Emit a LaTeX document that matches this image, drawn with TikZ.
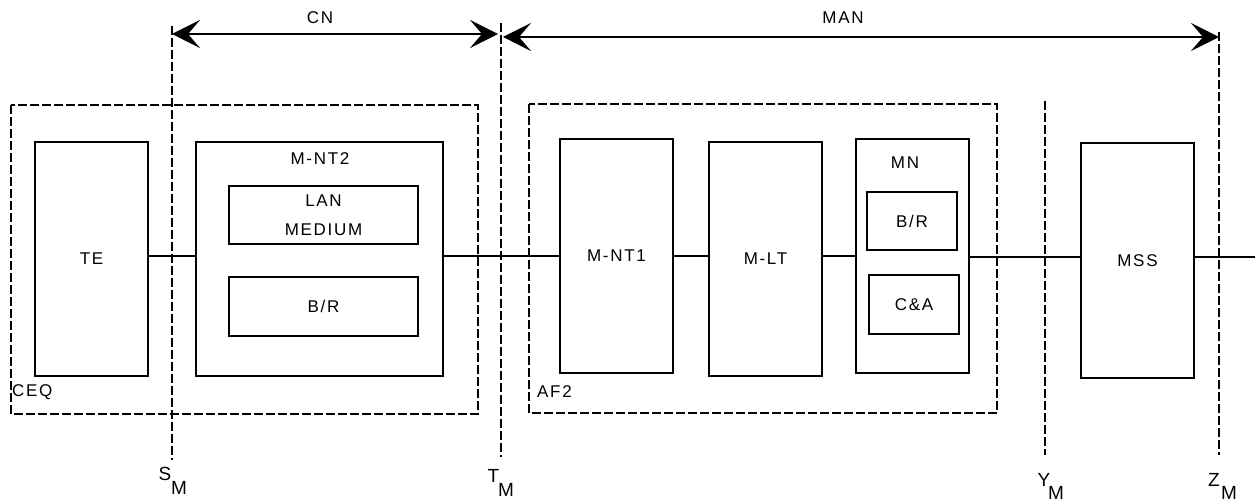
\documentclass[tikz,border=0pt]{standalone}
\usepackage{fontspec}
\setmainfont[LetterSpace=10]{Liberation Sans}
\usetikzlibrary{arrows.meta}
\begin{document}
\begin{tikzpicture}[x=1pt,y=-1pt,
  box/.style={draw, line width=1.4pt, inner sep=0pt},
  grp/.style={draw, line width=1.4pt, dash pattern=on 9pt off 3pt},
  refline/.style={line width=1.4pt, dash pattern=on 9pt off 3pt},
  conn/.style={line width=1.4pt},
  dim/.style={line width=2.2pt, {Stealth[length=28pt,width=28pt,inset=12pt]}-{Stealth[length=28pt,width=28pt,inset=12pt]}},
  lbl/.style={font=\fontsize{17}{19}\selectfont, inner sep=0pt},
  big/.style={font=\fontsize{19}{21}\selectfont, inner sep=0pt}
]
\useasboundingbox (0,0) rectangle (1258,502);
% group boxes
\draw[grp] (11,105) rectangle (478,414);
\node[lbl, anchor=west] (ceq) at (12,392) {CEQ};
\draw[grp] (529,104) rectangle (997,413);
\node[lbl, anchor=west] (af2) at (537,392) {AF2};
% reference lines
\coordinate (s1) at (172,26); \coordinate (s2) at (172,460);
\coordinate (t1) at (501,23); \coordinate (t2) at (501,457);
\coordinate (y1) at (1045,101); \coordinate (y2) at (1045,455);
\coordinate (z1) at (1219,32); \coordinate (z2) at (1219,455);
\draw[refline] (s1) -- (s2);
\draw[refline] (t1) -- (t2);
\draw[refline] (y1) -- (y2);
\draw[refline] (z1) -- (z2);
% dimension arrows
\coordinate (cnA) at (172,34); \coordinate (cnB) at (498,34);
\coordinate (manA) at (503,37); \coordinate (manB) at (1219,37);
\draw[dim] (cnA) -- (cnB);
\draw[dim] (manA) -- (manB);
\node[lbl] (cn) at (320,18) {CN};
\node[lbl] (man) at (843,18) {MAN};
% boxes
\node[box, minimum width=113pt, minimum height=234pt] (te) at (91.5,259) {};
\node[lbl] at (te.center) {TE};
\node[box, minimum width=247pt, minimum height=234pt] (mnt2) at (319.5,259) {};
\node[lbl] (mnt2l) at (320,159) {M-NT2};
\node[box, minimum width=189pt, minimum height=58pt] (lan) at (323.5,215) {};
\node[lbl, align=center, font=\fontsize{17}{29}\selectfont] at (lan.center) {LAN\\MEDIUM};
\node[box, minimum width=189pt, minimum height=59pt] (br1) at (323.5,306.5) {};
\node[lbl] at (br1.center) {B/R};
\node[box, minimum width=113pt, minimum height=234pt] (mnt1) at (616.5,256) {};
\node[lbl] at (mnt1.center) {M-NT1};
\node[box, minimum width=113pt, minimum height=234pt] (mlt) at (765.5,259) {};
\node[lbl] at (mlt.center) {M-LT};
\node[box, minimum width=113pt, minimum height=234pt] (mn) at (912.5,256) {};
\node[lbl] (mnl) at (905,163) {MN};
\node[box, minimum width=90pt, minimum height=58pt] (br2) at (912,221) {};
\node[lbl] at (br2.center) {B/R};
\node[box, minimum width=90pt, minimum height=59pt] (ca) at (914,304.5) {};
\node[lbl] at (ca.center) {C\&A};
\node[box, minimum width=113pt, minimum height=235pt] (mss) at (1137.5,260.5) {};
\node[lbl] at (1137.5,261) {MSS};
% connectors
\coordinate (endR) at (1255,257);
\draw[conn] (te.east |- 0,256) -- (mnt2.west |- 0,256);
\draw[conn] (mnt2.east |- 0,256) -- (mnt1.west |- 0,256);
\draw[conn] (mnt1.east |- 0,256) -- (mlt.west |- 0,256);
\draw[conn] (mlt.east |- 0,256) -- (mn.west |- 0,256);
\draw[conn] (mn.east |- 0,257) -- (mss.west |- 0,257);
\draw[conn] (mss.east |- 0,257) -- (endR);
% reference labels
\node[big] (sm) at (165,474) {S};
\node[big] (smi) at (179,488) {M};
\node[big] (tm) at (493.5,476) {T};
\node[big] (tmi) at (506,490) {M};
\node[big] (ym) at (1044,480) {Y};
\node[big] (ymi) at (1056,493) {M};
\node[big] (zm) at (1214,480) {Z};
\node[big] (zmi) at (1229,493) {M};
\end{tikzpicture}
\end{document}
